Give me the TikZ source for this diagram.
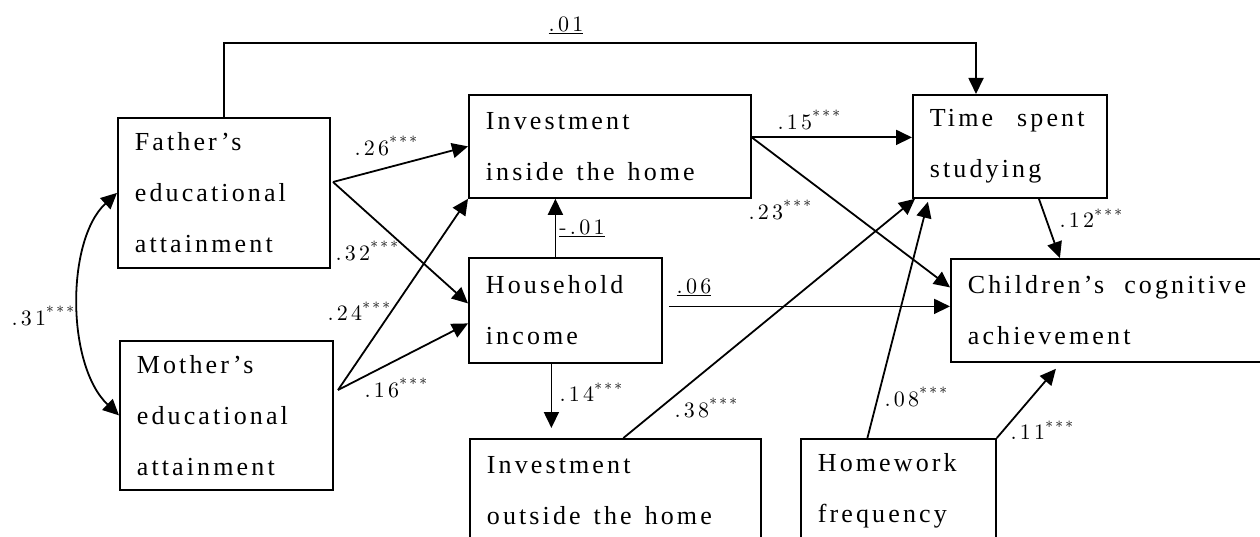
\documentclass[tikz,border=0pt]{standalone}
\usepackage{fontspec}
\usetikzlibrary{arrows.meta}
\newfontfamily\boxfont{Liberation Serif}[LetterSpace=12]
\newfontfamily\coeffont{lmroman10-regular}[Extension=.otf,LetterSpace=15]
\newcommand{\coef}[1]{{\coeffont#1}}
\newcommand{\sig}{\textsuperscript{***}}
\newcommand{\widespace}{\spaceskip=13pt plus 2pt\relax}
\tikzset{
  var/.style={draw, line width=1.8pt, anchor=north west, align=left, inner xsep=17pt,
    font=\boxfont\fontsize{26}{51}\selectfont, execute at begin node=\widespace},
  conn/.style={line width=1.8pt, -{Triangle[length=16pt,width=15pt]}},
  dconn/.style={line width=1.8pt, {Triangle[length=16pt,width=15pt]}-{Triangle[length=16pt,width=15pt]}},
  coeff/.style={font=\fontsize{22}{26}\selectfont, inner sep=0pt}
}
\begin{document}
\begin{tikzpicture}[x=1pt,y=-1pt]
\useasboundingbox (0,0) rectangle (1260,537);
\node[var, text width=178pt, minimum height=150pt] (fa) at (117,117) {Father’s\\educational\\attainment};
\node[var, text width=179pt, minimum height=149pt] (mo) at (119,340) {Mother’s\\educational\\attainment};
\node[var, text width=248pt, minimum height=103pt] (ii) at (468,94) {Investment\\inside the home};
\node[var, text width=159pt, minimum height=105pt] (hi) at (468,257) {Household\\income};
\node[var, text width=257pt, minimum height=103pt] (io) at (469,438) {Investment\\outside the home};
\node[var, text width=161pt, minimum height=103pt] (hw) at (800,438) {Homework\\frequency};
\node[var, text width=160pt, minimum height=103pt] (ts) at (912,94) {Time\hspace{24pt}spent\\studying};
\node[var, text width=296pt, minimum height=103pt] (ca) at (950,258) {Children’s\hspace{20pt}cognitive\\achievement};
\coordinate (tl) at (976,43);
\coordinate (fo) at (333,182);
\coordinate (mout) at (338,390);
\draw[conn] (fa.north) |- (tl) -- (tl |- ts.north);
\draw[conn] (fo) -- (ii.west);
\draw[conn] (fo) -- ([yshift=7pt]hi.west);
\draw[conn] (mout) -- (ii.south west);
\draw[conn] (mout) -- ([yshift=-13pt]hi.west);
\draw[dconn] (fa.west) .. controls (66,240) and (66,365) .. (mo.west);
\draw[conn] ([xshift=-10pt]hi.north) -- ([xshift=-10pt]hi.north |- ii.south);
\draw[conn] ([yshift=9pt]ii.east) -- ([yshift=9pt]ii.east -| ts.west);
\draw[conn] ([yshift=9pt]ii.east) -- ([yshift=23pt]ca.west);
\draw[conn] ([xshift=6pt,yshift=4pt]hi.east) -- ([yshift=4pt]ca.west);
\draw[conn] ([xshift=-14pt]hi.south) -- ([xshift=-14pt,yshift=10pt]hi.south |- io.north);
\draw[conn] ([xshift=8pt]io.north) -- ([xshift=3pt]ts.south west);
\draw[conn] ([xshift=-31pt]hw.north) -- ([xshift=-82pt,yshift=-3pt]ts.south);
\draw[conn] (hw.north east) -- ([xshift=-60pt,yshift=-6pt]ca.south);
\draw[conn] ([xshift=29pt]ts.south) -- ([xshift=-56pt]ca.north);
\node[coeff] (c01) at (566,25) {\coef{\underline{.01}}};
\node[coeff] (c26) at (386,146) {\coef{.26\sig}};
\node[coeff] (c32) at (367,251) {\coef{.32\sig}};
\node[coeff] (c24) at (359,311) {\coef{.24\sig}};
\node[coeff] (c16) at (396,388) {\coef{.16\sig}};
\node[coeff] (c31) at (43,316) {\coef{.31\sig}};
\node[coeff] (cm01) at (582,228) {\coef{\underline{-.01}}};
\node[coeff] (c15) at (809,120) {\coef{.15\sig}};
\node[coeff] (c23) at (780,210) {\coef{.23\sig}};
\node[coeff] (c06) at (694,287) {\coef{\underline{.06}}};
\node[coeff] (c14) at (591,392) {\coef{.14\sig}};
\node[coeff] (c38) at (706,408) {\coef{.38\sig}};
\node[coeff] (c08) at (916,397) {\coef{.08\sig}};
\node[coeff] (c11) at (1042,430) {\coef{.11\sig}};
\node[coeff] (c12) at (1091,218) {\coef{.12\sig}};
\end{tikzpicture}
\end{document}
